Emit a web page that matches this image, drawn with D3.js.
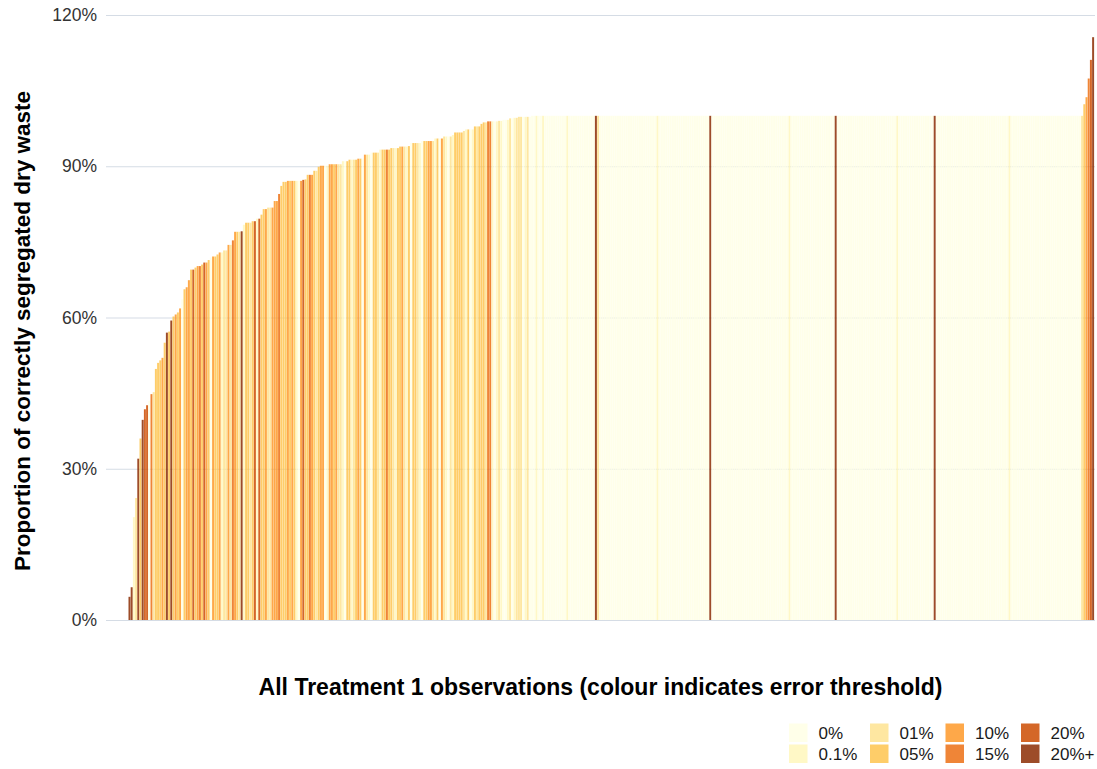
<!DOCTYPE html>
<html>
<head>
<meta charset="utf-8">
<script src="https://cdn.jsdelivr.net/npm/d3@7"></script>
<style>
  body { margin: 0; background: #ffffff; }
  svg { display: block; font-family: "Liberation Sans", Arial, Helvetica, sans-serif; }
</style>
</head>
<body>
<svg id="chart" width="1097" height="769"></svg>
<script>
// Error-threshold classes (legend order) and their fills
const thresholdLabels = ["0%", "0.1%", "01%", "05%", "10%", "15%", "20%", "20%+"];
const thresholdColours = ["#FFFFE5", "#FFF7BC", "#FEE391", "#FEC44F", "#FE9929", "#EC7014", "#CC4C02", "#8C2D04"];

// Y axis ticks (percent)
const yTicks = [0, 30, 60, 90, 120];

// Sorted share of correctly segregated dry waste per observation, as [value %, number of observations]
const shareRuns = [
  [4.6, 1], [6.5, 1], [20.4, 1], [24.2, 1], [32.0, 1], [36.0, 1], [39.7, 1], [41.8, 1],
  [42.6, 1], [43.5, 1], [44.8, 1], [45.2, 1], [49.8, 1], [51.0, 1], [51.5, 1], [52.0, 1],
  [55.0, 1], [57.0, 1], [57.2, 1], [59.4, 1], [60.2, 1], [60.6, 1], [61.0, 1], [61.8, 1],
  [63.6, 1], [65.6, 1], [66.0, 1], [67.4, 1], [69.5, 2], [69.9, 1], [70.2, 2], [70.5, 1],
  [70.9, 2], [71.4, 1], [71.9, 1], [72.1, 2], [72.5, 1], [72.9, 2], [73.3, 2], [74.4, 2],
  [75.3, 1], [77.0, 3], [77.1, 1], [78.4, 1], [78.8, 3], [79.1, 2], [79.6, 2], [80.4, 1],
  [81.5, 2], [81.8, 3], [83.1, 2], [84.5, 1], [86.1, 1], [86.9, 2], [87.1, 7], [87.3, 1],
  [87.4, 1], [88.3, 3], [89.1, 2], [89.9, 1], [90.1, 4], [90.4, 6], [91.0, 3], [91.3, 4],
  [91.5, 3], [92.3, 3], [92.7, 4], [93.3, 5], [93.6, 4], [93.9, 4], [94.0, 1], [94.6, 5],
  [95.0, 6], [95.5, 4], [95.9, 4], [96.2, 1], [96.7, 4], [97.0, 1], [97.3, 4], [97.9, 3],
  [98.4, 1], [98.7, 2], [98.9, 5], [99.0, 2], [99.2, 3], [99.5, 2], [99.6, 2], [99.8, 6],
  [100.0, 251],
  [102.3, 1], [103.7, 1], [107.4, 1], [111.1, 1], [115.6, 1]
];

// Error-threshold class of each observation (index into thresholdLabels), ten per chunk
const thresholdCodes = [
  "7712737660", "5233343737", "3434034436", "3453643043", "3412242543",
  "2713323616", "3342244453", "3343431046", "3354323440", "1443422103",
  "3123430421", "0332133533", "2133421303", "3210334421", "3042102133",
  "3321301323", "3325510121", "0012012220", "1200010010", "0000000001",
  "0000000000", "0072000000", "0000000000", "0000000000", "1000000000",
  "0000000000", "0000700000", "0000000000", "0000000000", "0000000000",
  "1000000000", "0000000000", "0700000000", "0000000000", "0000000001",
  "0000000000", "0000007000", "0000000000", "0000000000", "0000000000",
  "1000000000", "0000000000", "0000000000", "000234567"
].join("");

// Expand the runs into one record per observation
const observations = [];
shareRuns.forEach(([value, count]) => {
  for (let k = 0; k < count; k++) {
    const i = observations.length;
    observations.push({ id: i, value: value, code: +(thresholdCodes[i] || 0) });
  }
});

const svg = d3.select("#chart");

const x = d3.scaleBand()
  .domain(observations.map(d => d.id))
  .range([128.5, 1094.1])
  .paddingInner(0.1)
  .paddingOuter(0);

const y = d3.scaleLinear().domain([0, 120]).range([620, 15]);

const colour = d3.scaleOrdinal().domain(d3.range(thresholdLabels.length)).range(thresholdColours);

// Horizontal grid lines
const gridLeft = 106, gridRight = 1095;
const grid = svg.append("g")
  .attr("transform", `translate(${gridLeft},0)`)
  .call(d3.axisLeft(y)
    .tickValues(yTicks)
    .tickSize(-(gridRight - gridLeft))
    .tickFormat(""));
grid.select(".domain").remove();
grid.selectAll(".tick line").attr("stroke", "#d5dce5").attr("stroke-width", 1.1);

// Tick labels
svg.append("g")
  .selectAll("text")
  .data(yTicks)
  .join("text")
  .attr("x", gridLeft - 9)
  .attr("y", d => y(d))
  .attr("dy", "0.35em")
  .attr("text-anchor", "end")
  .attr("fill", "#333333")
  .style("font-size", "17.5px")
  .text(d => d + "%");

// Bars
svg.append("g")
  .selectAll("rect")
  .data(observations)
  .join("rect")
  .attr("x", d => x(d.id))
  .attr("width", x.bandwidth())
  .attr("y", d => y(d.value))
  .attr("height", d => y(0) - y(d.value))
  .attr("fill", d => colour(d.code))
  .attr("fill-opacity", 0.85);

// Axis titles
svg.append("text")
  .attr("transform", "translate(30,331) rotate(-90)")
  .attr("text-anchor", "middle")
  .style("font-size", "22.5px")
  .style("font-weight", "bold")
  .attr("fill", "#000")
  .text("Proportion of correctly segregated dry waste");

svg.append("text")
  .attr("x", 600.5)
  .attr("y", 695)
  .attr("text-anchor", "middle")
  .style("font-size", "23px")
  .style("font-weight", "bold")
  .attr("fill", "#000")
  .text("All Treatment 1 observations (colour indicates error threshold)");

// Legend: two rows, filled column by column
const legendCols = [789, 870, 945.5, 1021];
const legendRows = [723.5, 744.5];
const keySize = 18.5;
const legend = svg.append("g");
thresholdLabels.forEach((label, i) => {
  const col = Math.floor(i / 2), row = i % 2;
  const g = legend.append("g")
    .attr("transform", `translate(${legendCols[col]},${legendRows[row]})`);
  g.append("rect")
    .attr("width", keySize)
    .attr("height", keySize)
    .attr("fill", thresholdColours[i])
    .attr("fill-opacity", 0.85);
  g.append("text")
    .attr("x", keySize + 11)
    .attr("y", keySize / 2 + 6)
    .style("font-size", "17px")
    .attr("fill", "#1a1a1a")
    .text(label);
});
</script>
</body>
</html>
